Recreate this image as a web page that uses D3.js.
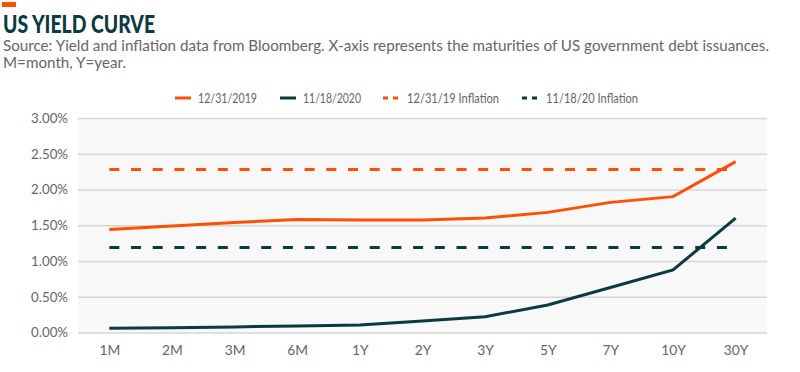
<!DOCTYPE html>
<html>
<head>
<meta charset="utf-8">
<script src="https://cdn.jsdelivr.net/npm/d3@7"></script>
<style>
  body { margin: 0; background: #fff; }
  svg { display: block; font-family: Lato, "Open Sans", sans-serif; }
</style>
</head>
<body>
<script>
'use strict';

// maturities along the x axis
const maturities = ["1M", "2M", "3M", "6M", "1Y", "2Y", "3Y", "5Y", "7Y", "10Y", "30Y"];

// yields in percent
const yield2019 = [1.44, 1.49, 1.54, 1.58, 1.575, 1.575, 1.60, 1.68, 1.82, 1.90, 2.39];
const yield2020 = [0.06, 0.068, 0.078, 0.092, 0.105, 0.16, 0.22, 0.385, 0.63, 0.875, 1.60];

// flat inflation levels
const inflation2019 = 2.28;
const inflation2020 = 1.19;

const yTicks = [0, 0.5, 1, 1.5, 2, 2.5, 3];

const seriesNames = ["12/31/2019", "11/18/2020", "12/31/19 Inflation", "11/18/20 Inflation"];

const orange = "#ff4f00";
const dark = "#0b3a40";
const grey = "#666";

(function() {
  let svg = d3.select('body')
    .append('svg')
    .attr('width', 800)
    .attr('height', 372);

  // shrink a font size so a sample text gets a given width
  function fitSize(sample, baseSize, width, weight) {
    let t = svg.append('text')
      .style('font-size', baseSize + 'px')
      .style('font-weight', weight || 'normal')
      .text(sample);
    let w = t.node().getComputedTextLength();
    t.remove();
    return baseSize * width / w;
  }

  // accent bar and title
  svg.append('rect')
    .attr('x', 2).attr('y', 2)
    .attr('width', 14).attr('height', 5)
    .attr('fill', orange);

  svg.append('text')
    .attr('x', 3)
    .attr('y', 33)
    .attr('fill', dark)
    .style('font-size', '24px')
    .style('font-weight', '900')
    .attr('textLength', 152)
    .attr('lengthAdjust', 'spacingAndGlyphs')
    .text('US YIELD CURVE');

  // subtitle, sized to fit the width of the reference
  let subSize = fitSize('Source: Yield and inflation data from Bloomberg. X-axis represents the maturities of US government debt issuances.', 16, 767);

  svg.append('text')
    .attr('x', 3)
    .attr('y', 51)
    .attr('fill', grey)
    .style('font-size', subSize + 'px')
    .text('Source: Yield and inflation data from Bloomberg. X-axis represents the maturities of US government debt issuances.');

  svg.append('text')
    .attr('x', 3)
    .attr('y', 68)
    .attr('fill', grey)
    .style('font-size', subSize + 'px')
    .text('M=month, Y=year.');

  // scales
  let x = d3.scalePoint()
    .domain(maturities)
    .range([78, 767])
    .padding(0.5);

  let y = d3.scaleLinear()
    .domain([0, 3])
    .range([332.5, 118]);

  // plot background
  svg.append('rect')
    .attr('x', 78)
    .attr('y', y(3))
    .attr('width', 689)
    .attr('height', y(0) - y(3))
    .attr('fill', '#f8f8f8');

  let tickSize = fitSize('3.00%', 14, 37);

  // y axis with gridlines
  let yAxis = d3.axisLeft(y)
    .tickValues(yTicks)
    .tickSize(-689)
    .tickPadding(10)
    .tickFormat(d => d.toFixed(2) + '%');

  let gy = svg.append('g')
    .attr('transform', 'translate(78,0)')
    .call(yAxis);
  gy.select('.domain').remove();
  gy.selectAll('.tick line').attr('stroke', '#d6d6d6').attr('stroke-width', 1.5);
  gy.selectAll('.tick text')
    .attr('fill', grey)
    .style('font-size', tickSize + 'px')
    .style('font-family', 'Lato, sans-serif');

  // x axis
  let xAxis = d3.axisBottom(x).tickSize(0).tickPadding(13);
  let gx = svg.append('g')
    .attr('transform', 'translate(0,' + y(0) + ')')
    .call(xAxis);
  gx.select('.domain').remove();
  gx.selectAll('.tick text')
    .attr('fill', grey)
    .style('font-size', (tickSize + 0.5) + 'px')
    .style('font-family', 'Lato, sans-serif');

  // inflation reference lines
  function flatLine(level, color) {
    svg.append('path')
      .attr('d', d3.line().x(d => x(d)).y(() => y(level))(maturities))
      .attr('fill', 'none')
      .attr('stroke', color)
      .attr('stroke-width', 3)
      .attr('stroke-dasharray', '10,11.7');
  }
  flatLine(inflation2019, orange);
  flatLine(inflation2020, dark);

  // yield curves
  let curve = d3.line()
    .x((d, i) => x(maturities[i]))
    .y(d => y(d));

  svg.append('path')
    .attr('d', curve(yield2019))
    .attr('fill', 'none')
    .attr('stroke', orange)
    .attr('stroke-width', 3);

  svg.append('path')
    .attr('d', curve(yield2020))
    .attr('fill', 'none')
    .attr('stroke', dark)
    .attr('stroke-width', 3);

  // legend
  let legendItems = [
    {name: seriesNames[0], color: orange, dash: null, x: 175, w: 59},
    {name: seriesNames[1], color: dark, dash: null, x: 280, w: 58},
    {name: seriesNames[2], color: orange, dash: '5,5', x: 383, w: 92},
    {name: seriesNames[3], color: dark, dash: '5,5', x: 522, w: 92}
  ];

  let legend = svg.append('g').attr('class', 'legend');
  legendItems.forEach(function(item) {
    legend.append('line')
      .attr('x1', item.x)
      .attr('x2', item.x + 16)
      .attr('y1', 98)
      .attr('y2', 98)
      .attr('stroke', item.color)
      .attr('stroke-width', 3)
      .attr('stroke-dasharray', item.dash);
    legend.append('text')
      .attr('x', item.x + (item.dash ? 24 : 23))
      .attr('y', 103)
      .attr('fill', grey)
      .style('font-size', '13.5px')
      .attr('textLength', item.w)
      .attr('lengthAdjust', 'spacingAndGlyphs')
      .text(item.name);
  });
})();
</script>
</body>
</html>
